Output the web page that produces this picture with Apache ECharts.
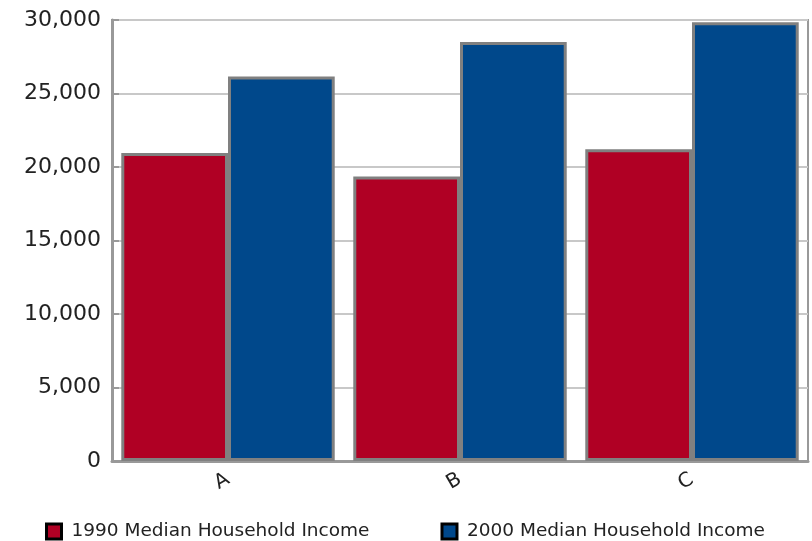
<!DOCTYPE html>
<html><head><meta charset="utf-8">
<script src="https://cdn.jsdelivr.net/npm/echarts@6/dist/echarts.min.js"></script>
<style>html,body{margin:0;padding:0;background:#fff}#c{width:812px;height:541px}</style>
</head><body><div id="c"></div>
<script>
const categories = ['A', 'B', 'C'];
const income1990 = [20950, 19350, 21200];
const income2000 = [26150, 28500, 29850];
const seriesNames = ['1990 Median Household Income', '2000 Median Household Income'];

const chart = echarts.init(document.getElementById('c'));
chart.setOption({
  animation: false,
  grid: { left: 112, right: 4, top: 20, bottom: 80, show: true, borderColor: '#999', borderWidth: 2, backgroundColor: '#fff' },
  legend: {
    top: 517, left: 40, itemWidth: 15, itemHeight: 15, itemGap: 71,
    textStyle: { fontFamily: 'DejaVu Sans', fontSize: 18.5, color: '#222', padding: [0, 0, 0, 5] },
    data: seriesNames.map(n => ({ name: n, icon: 'rect', itemStyle: { borderColor: '#000', borderWidth: 3 } }))
  },
  xAxis: {
    type: 'category', data: categories,
    axisLine: { lineStyle: { color: '#999', width: 3 } },
    axisTick: { show: false },
    axisLabel: { rotate: 30, fontFamily: 'DejaVu Sans', fontSize: 20, color: '#222', margin: 17 }
  },
  yAxis: {
    type: 'value', min: 0, max: 30000, interval: 5000,
    axisLine: { show: true, lineStyle: { color: '#999', width: 3 } },
    axisTick: { show: true, inside: true, length: 7, lineStyle: { color: '#999', width: 2 } },
    splitLine: { lineStyle: { color: '#c8c8c8', width: 2 } },
    axisLabel: { fontFamily: 'DejaVu Sans', fontSize: 22, color: '#222', margin: 11,
      formatter: v => v.toLocaleString('en-US') }
  },
  series: [
    { name: seriesNames[0], type: 'bar', data: income1990, barGap: '0%', barCategoryGap: '8%',
      itemStyle: { color: '#b00024', borderColor: '#808080', borderWidth: 3 } },
    { name: seriesNames[1], type: 'bar', data: income2000,
      itemStyle: { color: '#00488b', borderColor: '#808080', borderWidth: 3 } }
  ]
});
</script></body></html>
